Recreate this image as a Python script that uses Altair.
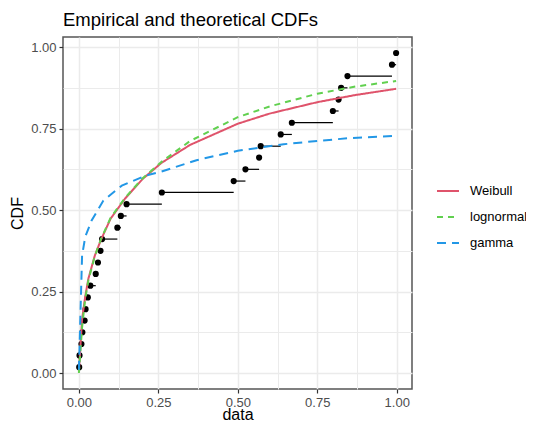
import altair as alt
import pandas as pd

# ---- data ----
ecdf_x = [0.001, 0.002, 0.008, 0.011, 0.018, 0.021, 0.028, 0.036, 0.053, 0.060,
          0.068, 0.073, 0.121, 0.132, 0.150, 0.261, 0.487, 0.524, 0.567, 0.572,
          0.635, 0.670, 0.799, 0.817, 0.825, 0.845, 0.985, 0.998]
ecdf_y = [0.018, 0.054, 0.089, 0.125, 0.161, 0.196, 0.232, 0.268, 0.304, 0.339,
          0.375, 0.411, 0.446, 0.482, 0.518, 0.554, 0.589, 0.625, 0.661, 0.696,
          0.732, 0.768, 0.804, 0.839, 0.875, 0.911, 0.946, 0.982]

weibull_x = [0.0, 0.01, 0.02, 0.03, 0.05, 0.07, 0.10, 0.145, 0.20, 0.26, 0.35, 0.50, 0.60, 0.75, 0.87, 0.998]
weibull_y = [0.004, 0.165, 0.235, 0.29, 0.36, 0.41, 0.474, 0.535, 0.595, 0.645, 0.70, 0.765, 0.796, 0.831, 0.853, 0.872]

lnorm_x = [0.0, 0.01, 0.02, 0.03, 0.05, 0.07, 0.10, 0.145, 0.20, 0.26, 0.35, 0.50, 0.60, 0.75, 0.87, 0.998]
lnorm_y = [0.0, 0.14, 0.228, 0.285, 0.358, 0.412, 0.477, 0.537, 0.597, 0.648, 0.712, 0.785, 0.818, 0.857, 0.879, 0.896]

gamma_x = [0.0, 0.01, 0.02, 0.04, 0.077, 0.135, 0.208, 0.26, 0.37, 0.50, 0.644, 0.75, 0.854, 0.998]
gamma_y = [0.01, 0.36, 0.418, 0.468, 0.529, 0.575, 0.605, 0.618, 0.653, 0.682, 0.702, 0.712, 0.721, 0.728]

dist_names = ["Weibull", "lognormal", "gamma"]
dist_colors = ["#DF536B", "#61D04F", "#2297E6"]
dist_dashes = [[1, 0], [6, 5], [9, 6]]

grid_values = [0, 0.125, 0.25, 0.375, 0.5, 0.625, 0.75, 0.875, 1.0]

FONT = "Liberation Sans"

# ---- tables ----
pts_df = pd.DataFrame({"x": ecdf_x, "y": ecdf_y})
seg_df = pd.DataFrame({"x": ecdf_x[:-1], "x2": ecdf_x[1:], "y": ecdf_y[:-1]})
w_df = pd.DataFrame({"x": weibull_x, "y": weibull_y, "dist": "Weibull"})
l_df = pd.DataFrame({"x": lnorm_x, "y": lnorm_y, "dist": "lognormal"})
g_df = pd.DataFrame({"x": gamma_x, "y": gamma_y, "dist": "gamma"})

minor_test = "(datum.value * 8) % 2 != 0"

x_enc = alt.X(
    "x:Q",
    title="data",
    scale=alt.Scale(domain=[-0.05, 1.048], nice=False, zero=False),
    axis=alt.Axis(
        values=grid_values,
        labelExpr="(datum.value * 8) % 2 == 0 ? format(datum.value, '.2f') : ''",
        tickOpacity={"condition": {"test": minor_test, "value": 0}, "value": 1},
        gridWidth={"condition": {"test": minor_test, "value": 1.0}, "value": 1.5},
        labelFlush=False,
        labelOverlap=False,
        titleX=174.5,
        titleY=30,
        titleBaseline="alphabetic",
        titleAlign="center",
    ),
)
y_enc = alt.Y(
    "y:Q",
    title="CDF",
    scale=alt.Scale(domain=[-0.049, 1.031], nice=False, zero=False),
    axis=alt.Axis(
        values=grid_values,
        labelExpr="(datum.value * 8) % 2 == 0 ? format(datum.value, '.2f') : ''",
        tickOpacity={"condition": {"test": minor_test, "value": 0}, "value": 1},
        gridWidth={"condition": {"test": minor_test, "value": 1.0}, "value": 1.5},
        labelFlush=False,
        labelOverlap=False,
        titleAngle=270,
        titleX=-46,
        titleY=176,
        titleBaseline="middle",
        titleAlign="center",
    ),
)

legend = alt.Legend(
    title=None,
    orient="none",
    legendX=373,
    legendY=142,
    symbolType="stroke",
    symbolSize=484,
    symbolStrokeWidth=2,
    labelFont=FONT,
    labelFontSize=13,
    labelColor="black",
    labelOffset=10,
    rowPadding=7,
    padding=0,
)
color_enc = alt.Color("dist:N", scale=alt.Scale(domain=dist_names, range=dist_colors), legend=legend)
dash_enc = alt.StrokeDash("dist:N", scale=alt.Scale(domain=dist_names, range=dist_dashes), legend=legend)

segs = alt.Chart(seg_df).mark_rule(color="black", strokeWidth=1.2).encode(x=x_enc, x2="x2:Q", y=y_enc)
pts = alt.Chart(pts_df).mark_circle(color="black", size=38, opacity=1).encode(x=x_enc, y=y_enc)

def curve(df):
    return alt.Chart(df).mark_line(strokeWidth=2).encode(
        x=x_enc, y=y_enc, color=color_enc, strokeDash=dash_enc
    )

chart = (
    alt.layer(segs, pts, curve(w_df), curve(l_df), curve(g_df))
    .properties(
        width=349,
        height=352,
        title="Empirical and theoretical CDFs",
        padding={"left": 55, "top": 29, "right": 114, "bottom": 33},
        autosize=alt.AutoSizeParams(type="none"),
        background="white",
    )
    .configure_view(stroke="#555555", strokeWidth=1.5)
    .configure_axis(
        labelFont=FONT,
        labelFontSize=13,
        labelColor="#4D4D4D",
        labelPadding=3,
        titleFont=FONT,
        titleFontSize=16,
        titleColor="black",
        titleFontWeight="normal",
        tickColor="#333333",
        tickSize=4,
        tickWidth=1.2,
        domain=False,
        gridColor="#EBEBEB",
    )
    .configure_title(
        font=FONT,
        fontSize=18.5,
        fontWeight="normal",
        anchor="start",
        frame="group",
        color="black",
        offset=8,
    )
)

chart.save("out.html", embed_options={"renderer": "svg", "actions": False})
